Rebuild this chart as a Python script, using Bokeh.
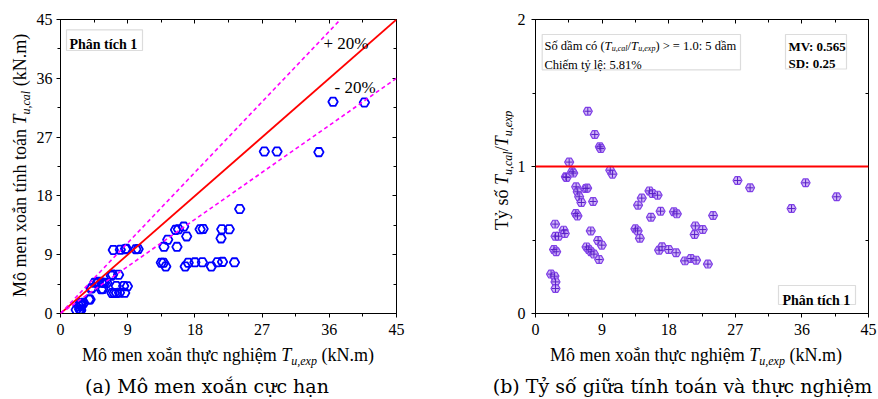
import math
from bokeh.plotting import figure
from bokeh.models import (Range1d, FixedTicker, LinearAxis, Slope, Span, Label,
                          BoxAnnotation, ColumnDataSource, Div)
from bokeh.layouts import row, column
from bokeh.embed import file_html
from bokeh.resources import INLINE

# ---------------- data ----------------
x_ticks = [0, 9, 18, 27, 36, 45]
y_ticks_a = [0, 9, 18, 27, 36, 45]
y_ticks_b = [0, 1, 2]

texp = [2.1, 2.56, 2.7, 2.7, 2.5, 2.8, 2.65, 2.7, 3.1, 3.8, 3.96, 4.1, 4.2, 4.55, 4.95, 5.1,
        5.45, 5.67, 5.49, 5.7, 5.9, 6.2, 6.8, 6.98, 7.78, 7.47, 6.9, 7.2, 7.5, 7.9, 8.46, 8.96,
        8.6, 7.07, 8.01, 8.69, 8.82, 10.1, 10.4,
        13.86, 14.36, 13.5, 13.8, 14.1, 15.4, 15.8, 16.5, 15.6, 16.9, 18.7, 19.1, 16.7, 17.1,
        18.0, 19.0, 20.2, 21.0, 21.7, 21.5, 21.6, 22.6, 23.3, 24.0, 27.3, 29.0, 34.6, 36.5, 40.7]
tcal = [0.56, 0.65, 0.58, 0.46, 1.09, 1.18, 1.61, 1.42, 1.63, 2.15, 2.15, 3.81, 3.89, 4.69, 4.77, 4.87,
        3.71, 3.76, 4.73, 4.72, 4.68, 4.68, 5.78, 5.95, 5.93, 4.2, 3.13, 3.13, 3.15, 3.19, 4.2, 4.17,
        3.16, 9.73, 9.75, 9.85, 9.9, 9.85, 9.86,
        10.2, 11.3, 7.78, 7.76, 7.2, 12.8, 12.9, 13.3, 10.2, 11.8, 12.9, 12.95, 7.2, 7.76,
        7.83, 7.85, 7.2, 7.85, 7.9, 11.5, 12.9, 12.9, 7.83, 16.0, 24.8, 24.8, 24.7, 32.4, 32.3]
ratio = [0.268, 0.254, 0.215, 0.170, 0.435, 0.420, 0.608, 0.526, 0.526, 0.567, 0.544, 0.930, 0.925,
         1.030, 0.964, 0.955, 0.680, 0.664, 0.862, 0.828, 0.794, 0.755, 0.850, 0.853, 0.762, 0.562,
         0.453, 0.435, 0.420, 0.404, 0.497, 0.465, 0.367, 1.376, 1.218, 1.134, 1.122, 0.975, 0.948,
         0.737, 0.785, 0.576, 0.562, 0.512, 0.834, 0.816, 0.805, 0.655, 0.696, 0.692, 0.678, 0.431,
         0.454, 0.435, 0.413, 0.358, 0.374, 0.363, 0.537, 0.596, 0.571, 0.336, 0.667, 0.905, 0.855,
         0.714, 0.889, 0.794]
bound_slopes = [1.0, 1.2, 0.8]
ratio_ref = 1.0

SERIF = "Liberation Serif"
CAP_FONT = "DejaVu Serif"

T_EXP = "<i>T</i><span style=\"font-style:italic;font-size:12px;position:relative;top:4px\">u,exp</span>"
T_CAL = "<i>T</i><span style=\"font-style:italic;font-size:12px;position:relative;top:4px\">u,cal</span>"

FIG_H = 343


def plain(p, x, y, txt, size, style="normal"):
    p.add_layout(Label(x=x, y=y, x_units="screen", y_units="screen", text=txt,
                       text_font=SERIF, text_font_size=f"{size}px", text_font_style=style,
                       text_align="left", text_baseline="alphabetic", text_color="black"))


def box(p, l, r, b, t, color="#8c8c8c"):
    p.add_layout(BoxAnnotation(left=l, right=r, bottom=b, top=t,
                               left_units="screen", right_units="screen",
                               top_units="screen", bottom_units="screen",
                               fill_color="white", fill_alpha=1.0,
                               line_color=color, line_width=1.2))


def style_axes(p, xt, xminor, yt, yminor):
    for ax in p.xaxis + p.yaxis:
        ax.axis_line_color = "black"
        ax.major_tick_line_color = "black"
        ax.minor_tick_line_color = "black"
        ax.major_tick_out = 4
        ax.major_tick_in = 0
        ax.minor_tick_out = 3
        ax.minor_tick_in = 0
        ax.major_label_text_font = SERIF
        ax.major_label_text_font_size = "16px"
        ax.major_label_text_color = "black"
    p.xaxis.ticker = FixedTicker(ticks=xt, minor_ticks=xminor)
    p.yaxis.ticker = FixedTicker(ticks=yt, minor_ticks=yminor)
    p.xaxis.major_label_standoff = 6
    p.yaxis.major_label_standoff = 4
    for loc, t, mt in (("right", yt, yminor), ("above", xt, xminor)):
        ax = LinearAxis(ticker=FixedTicker(ticks=t, minor_ticks=mt),
                        major_label_overrides={v: "" for v in t},
                        major_label_text_font_size="1px", major_label_standoff=0,
                        major_tick_in=4, major_tick_out=0, minor_tick_in=3, minor_tick_out=0,
                        axis_line_color="black", major_tick_line_color="black",
                        minor_tick_line_color="black")
        p.add_layout(ax, loc)
    p.xgrid.visible = False
    p.ygrid.visible = False
    p.outline_line_color = "black"


def html_box(w, h, left, top, inner, size, font=SERIF, rotate=False, center_w=None):
    if rotate:
        st = (f"position:absolute;left:{left}px;top:{top}px;transform-origin:0 0;"
              f"transform:rotate(-90deg);white-space:nowrap;font-family:'{font}';"
              f"font-size:{size}px;line-height:{size}px;color:black;")
    elif center_w is not None:
        st = (f"position:absolute;left:{left}px;top:{top}px;width:{center_w}px;text-align:center;"
              f"white-space:nowrap;font-family:'{font}';font-size:{size}px;"
              f"line-height:{size}px;color:black;")
    else:
        st = (f"position:absolute;left:{left}px;top:{top}px;white-space:nowrap;"
              f"font-family:'{font}';font-size:{size}px;line-height:{size}px;color:black;")
    html = (f"<div style=\"position:relative;width:{w}px;height:{h}px;overflow:visible\">"
            f"<div style=\"{st}\">{inner}</div></div>")
    return Div(text=html, width=w, height=h, margin=(0, 0, 0, 0))


x_minor = [(a + b) / 2 for a, b in zip(x_ticks[:-1], x_ticks[1:])]
ya_minor = [(a + b) / 2 for a, b in zip(y_ticks_a[:-1], y_ticks_a[1:])]
yb_minor = [(a + b) / 2 for a, b in zip(y_ticks_b[:-1], y_ticks_b[1:])]

src = ColumnDataSource(dict(texp=texp, tcal=tcal, ratio=ratio))

# ---------------- panel (a) ----------------
p1 = figure(width=406, height=FIG_H, x_range=Range1d(x_ticks[0], x_ticks[-1]),
            y_range=Range1d(y_ticks_a[0], y_ticks_a[-1]), output_backend="svg",
            toolbar_location=None, min_border_left=28, min_border_right=42,
            min_border_top=19, min_border_bottom=30, background_fill_color="white",
            border_fill_color="white")
style_axes(p1, x_ticks, x_minor, y_ticks_a, ya_minor)

for g in bound_slopes:
    if g == 1.0:
        p1.add_layout(Slope(gradient=g, y_intercept=0, line_color="#ff0000", line_width=1.8))
    else:
        p1.add_layout(Slope(gradient=g, y_intercept=0, line_color="#ff00ff", line_width=1.6,
                            line_dash="4 3"))

p1.scatter("texp", "tcal", source=src, marker="hex", size=9.5, line_color="#0000ff",
           line_width=1.8, fill_color=None)

box(p1, 6, 82, 263, 283.7)
plain(p1, 9, 268.7, "Phân tích 1", 14, "bold")
plain(p1, 263, 270, "+ 20%", 17)
plain(p1, 274, 226, "- 20%", 17)

# ---------------- panel (b) ----------------
p2 = figure(width=365, height=FIG_H, x_range=Range1d(x_ticks[0], x_ticks[-1]),
            y_range=Range1d(y_ticks_b[0], y_ticks_b[-1]), output_backend="svg",
            toolbar_location=None, min_border_left=22, min_border_right=10,
            min_border_top=19, min_border_bottom=30, background_fill_color="white",
            border_fill_color="white")
style_axes(p2, x_ticks, x_minor, y_ticks_b, yb_minor)
p2.yaxis.major_label_standoff = 6

p2.add_layout(Span(location=ratio_ref, dimension="width", line_color="#ff0000", line_width=1.8))
p2.scatter("texp", "ratio", source=src, marker="hex", size=9, line_color="#8040e8",
           line_width=1.2, fill_color="#c4a4f4", fill_alpha=0.8)
p2.scatter("texp", "ratio", source=src, marker="cross", size=7, line_color="#5a20c8",
           line_width=1.0)

box(p2, 6.7, 205, 243.7, 279)
box(p2, 250, 311, 244.5, 279)
box(p2, 243, 320, 9, 28)
plain(p2, 253, 267, "MV: 0.565", 13, "bold")
plain(p2, 253, 249.7, "SD: 0.25", 13, "bold")
plain(p2, 247, 13, "Phân tích 1", 14, "bold")
plain(p2, 9, 249, "Chiếm tỷ lệ: 5.81%", 12.5)

# first line of the box: pieces with italic T and subscripts, chained left to right
seg_parts = [("Số dầm có (", 12.5, "normal", 0), ("T", 12.5, "italic", 0),
             ("u,cal", 8, "italic", 2.5), ("/", 12.5, "normal", 0),
             ("T", 12.5, "italic", 0), ("u,exp", 8, "italic", 2.5),
             (") > = 1.0: 5 dầm", 12.5, "normal", 0)]
seg_w = [60.0, 7.2, 15.8, 3.6, 7.2, 17.1, 0]
xoff = 9.0
for (txt, size, style, drop), w in zip(seg_parts, seg_w):
    p2.add_layout(Label(x=xoff, y=268 - drop, x_units="screen", y_units="screen", text=txt,
                        text_font=SERIF, text_font_size=f"{size}px", text_font_style=style,
                        text_align="left", text_baseline="alphabetic", text_color="black"))
    xoff += w

# ---------------- HTML labels ----------------
ylab_a = html_box(32, FIG_H, 11, 297, f"Mô men xoắn tính toán {T_CAL} (kN.m)", 18, rotate=True)
ylab_b = html_box(75, FIG_H, 55, 230, f"Tỷ số {T_CAL}/{T_EXP}", 18, rotate=True)
xlab_a = html_box(438, 25, 82, 3, f"Mô men xoắn thực nghiệm {T_EXP} (kN.m)", 18)
xlab_b = html_box(440, 25, 112, 3, f"Mô men xoắn thực nghiệm {T_EXP} (kN.m)", 18)
cap_a = html_box(438, 31, 0, 9, "(a) Mô men xoắn cực hạn", 19, font=CAP_FONT, center_w=414)
cap_b = html_box(440, 31, 49, 9, "(b) Tỷ số giữa tính toán và thực nghiệm", 19, font=CAP_FONT,
                 center_w=391)

layout = column(row(ylab_a, p1, ylab_b, p2, spacing=0),
                row(xlab_a, xlab_b, spacing=0),
                row(cap_a, cap_b, spacing=0), spacing=0)
open("out.html", "w").write(file_html(layout, INLINE))
